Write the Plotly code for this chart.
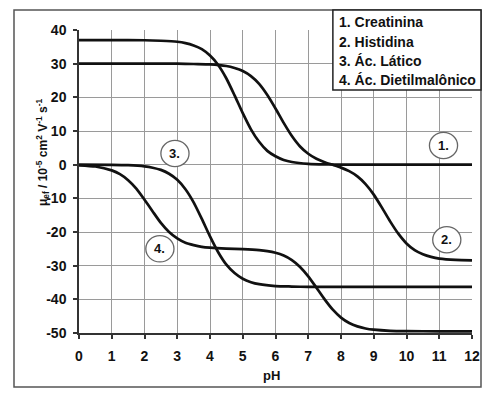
import plotly.graph_objects as go

# ---- data ----
ph_creat = [0, 1, 2, 2.5, 3, 3.25, 3.5, 3.75, 4, 4.25, 4.5, 4.75, 5, 5.25, 5.5, 5.75, 6, 6.25, 6.5, 7, 7.5, 8, 9, 10, 11, 12]
mu_creat = [37, 37, 36.95, 36.8, 36.5, 36.1, 35.4, 34.3, 32.4, 29.6, 25.6, 20.6, 15.3, 10.5, 6.8, 4.1, 2.5, 1.4, 0.8, 0.26, 0.08, 0.03, 0, 0, 0, 0]

ph_hist = [0, 1, 2, 3, 3.5, 4, 4.5, 4.75, 5, 5.25, 5.5, 5.75, 6, 6.25, 6.5, 6.75, 7, 7.25, 7.5, 7.75, 8, 8.25, 8.5, 8.75, 9, 9.25, 9.5, 9.75, 10, 10.25, 10.5, 10.75, 11, 11.5, 12]
mu_hist = [30, 30, 30, 30, 29.9, 29.8, 29.3, 28.7, 27.8, 26.3, 24.0, 20.7, 16.7, 12.4, 8.5, 5.4, 3.24, 1.75, 0.74, -0.05, -0.88, -1.93, -3.48, -5.77, -8.9, -12.77, -16.84, -20.5, -23.4, -25.4, -26.6, -27.4, -27.9, -28.3, -28.4]

ph_lact = [0, 1, 1.5, 2, 2.25, 2.5, 2.75, 3, 3.25, 3.5, 3.75, 4, 4.25, 4.5, 4.75, 5, 5.25, 5.5, 6, 6.5, 7, 8, 9, 10, 11, 12]
mu_lact = [0, -0.05, -0.16, -0.5, -0.9, -1.55, -2.7, -4.5, -7.3, -11.2, -16.1, -21.3, -26.0, -29.7, -32.2, -33.9, -34.9, -35.5, -36.05, -36.2, -36.3, -36.3, -36.3, -36.3, -36.3, -36.3]

ph_diet = [0, 0.5, 1, 1.25, 1.5, 1.75, 2, 2.25, 2.5, 2.75, 3, 3.25, 3.5, 3.75, 4, 4.5, 5, 5.5, 5.75, 6, 6.25, 6.5, 6.75, 7, 7.25, 7.5, 7.75, 8, 8.25, 8.5, 8.75, 9, 9.5, 10, 11, 12]
mu_diet = [-0.2, -0.55, -1.7, -2.8, -4.6, -7.1, -10.4, -13.9, -17.3, -20.0, -21.9, -23.2, -23.9, -24.4, -24.65, -24.93, -25.09, -25.38, -25.67, -26.17, -27.01, -28.35, -30.39, -33.18, -36.55, -40.02, -43.08, -45.43, -47.03, -48.04, -48.66, -49.02, -49.35, -49.45, -49.5, -49.5]

legend_lines = ["1. Creatinina", "2. Histidina", "3. Ác. Lático", "4. Ác. Dietilmalônico"]
label_text = ["1.", "2.", "3.", "4."]
label_ph = [11.13, 11.23, 2.93, 2.47]
label_mu = [5.7, -22.3, 3.3, -25.0]

x_ticks = list(range(0, 13))
y_ticks = list(range(-50, 41, 10))

FONT = "Arial, Liberation Sans, sans-serif"

fig = go.Figure()
for xs, ys in [(ph_creat, mu_creat), (ph_hist, mu_hist), (ph_lact, mu_lact), (ph_diet, mu_diet)]:
    fig.add_trace(go.Scatter(x=xs, y=ys, mode="lines",
                             line=dict(color="#111111", width=2.7, shape="spline", smoothing=0.6),
                             showlegend=False, hoverinfo="skip"))

shapes = []
# outer frame
shapes.append(dict(type="rect", xref="paper", yref="paper", x0=-0.1654, x1=1.0229, y0=-0.178, y1=1.066,
                   line=dict(color="#555555", width=1.5), fillcolor="rgba(0,0,0,0)", layer="above"))
# legend box
shapes.append(dict(type="rect", xref="paper", yref="paper", x0=0.646, x1=1.0229, y0=0.802, y1=1.066,
                   line=dict(color="#222222", width=1.5), fillcolor="white", layer="above"))
# circles for curve labels
for cx, cy in zip(label_ph, label_mu):
    shapes.append(dict(type="circle", xref="x", yref="y", x0=cx - 0.43, x1=cx + 0.43,
                       y0=cy - 3.9, y1=cy + 3.9,
                       line=dict(color="#666666", width=1.3), fillcolor="white", layer="above"))

annotations = []
leg_y = [1.026, 0.962, 0.898, 0.835]
for txt, yy in zip(legend_lines, leg_y):
    annotations.append(dict(text="<b>" + txt + "</b>", xref="paper", yref="paper", x=0.6565, y=yy,
                            xanchor="left", yanchor="middle", showarrow=False,
                            font=dict(family=FONT, size=14, color="#111111")))
for txt, cx, cy in zip(label_text, label_ph, label_mu):
    annotations.append(dict(text="<b>" + txt + "</b>", xref="x", yref="y", x=cx, y=cy,
                            xanchor="center", yanchor="middle", showarrow=False,
                            font=dict(family=FONT, size=13, color="#111111")))
annotations.append(dict(text="<b>pH</b>", xref="paper", yref="paper", x=0.49, y=-0.141,
                        xanchor="center", yanchor="middle", showarrow=False,
                        font=dict(family=FONT, size=13, color="#111111")))
annotations.append(dict(text="<b>μ<sub>ef</sub> / 10<sup>-5</sup> cm<sup>2</sup> V<sup>-1</sup> s<sup>-1</sup></b>",
                        xref="paper", yref="paper", x=-0.0916, y=0.597, textangle=-90,
                        xanchor="center", yanchor="middle", showarrow=False,
                        font=dict(family=FONT, size=12, color="#111111")))

fig.update_layout(
    width=492, height=396,
    margin=dict(l=79, r=20, t=30, b=63),
    paper_bgcolor="white", plot_bgcolor="white",
    shapes=shapes, annotations=annotations,
    xaxis=dict(range=[0, 12], tickvals=x_ticks, ticktext=[str(v) for v in x_ticks],
               showgrid=True, gridcolor="#9a9a9a", gridwidth=1,
               showline=True, linecolor="#333333", linewidth=1.5,
               ticks="outside", ticklen=4, tickcolor="#333333", tickwidth=1.5,
               ticklabelstandoff=5,
               zeroline=False, fixedrange=True,
               tickfont=dict(family=FONT, size=14, color="#111111", weight="bold")),
    yaxis=dict(range=[-50, 40], tickvals=y_ticks, ticktext=[str(v) for v in y_ticks],
               showgrid=True, gridcolor="#9a9a9a", gridwidth=1,
               showline=True, linecolor="#333333", linewidth=1.5,
               ticks="outside", ticklen=4, tickcolor="#333333", tickwidth=1.5,
               ticklabelstandoff=4,
               zeroline=False, fixedrange=True,
               tickfont=dict(family=FONT, size=14, color="#111111", weight="bold")),
)

fig.write_html("out.html", config={"displayModeBar": False},
               post_script="document.body.style.margin='0';document.body.style.padding='0';")
